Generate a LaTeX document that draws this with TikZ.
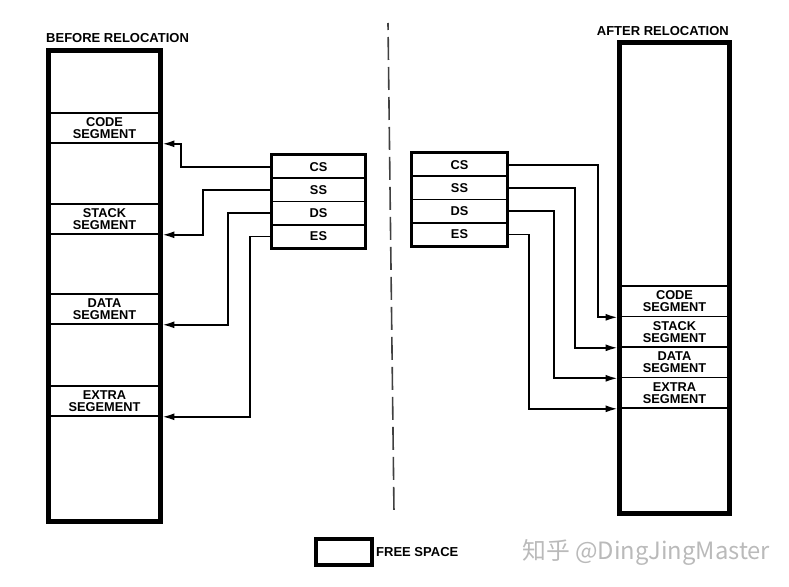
\documentclass[tikz,border=0pt]{standalone}
\usepackage{fontspec}
\setmainfont{Liberation Sans}
\newfontfamily\cjk{Noto Sans CJK SC}
\usetikzlibrary{arrows.meta}
\begin{document}
\begin{tikzpicture}[x=1pt,y=-1pt,
  lbl/.style={font=\fontsize{13}{13}\selectfont\bfseries, inner sep=0pt},
  membox/.style={draw, line width=3.2pt, inner sep=0pt},
  segbox/.style={draw, line width=1.6pt, inner sep=0pt, align=center,
     font=\fontsize{12.8}{12}\selectfont\bfseries},
  regcell/.style={draw, line width=1.6pt, inner sep=0pt,
     font=\fontsize{12.8}{12}\selectfont\bfseries},
  conn/.style={line width=1.8pt, -{Latex[length=12pt,width=7pt]}, shorten >=1.6pt},
]
\useasboundingbox (0,0) rectangle (789,586);

% ---------- BEFORE ----------
\node[lbl, anchor=west] (tbefore) at (46,38) {BEFORE RELOCATION};
\node[membox, minimum width=111pt, minimum height=470pt] (lmem) at (104.5,286) {};
\node[segbox, minimum width=111pt, minimum height=30pt] (lcode) at (104.5,128) {CODE\\SEGMENT};
\node[segbox, minimum width=111pt, minimum height=30pt] (lstack) at (104.5,219) {STACK\\SEGMENT};
\node[segbox, minimum width=111pt, minimum height=30pt] (ldata) at (104.5,309) {DATA\\SEGMENT};
\node[segbox, minimum width=111pt, minimum height=30pt] (lextra) at (104.5,401) {EXTRA\\SEGEMENT};
\draw[line width=3.2pt] (lmem.north west) rectangle (lmem.south east);

\node[regcell, minimum width=93pt, minimum height=23.25pt] (lcs) at (318.5,166.6) {CS};
\node[regcell, minimum width=93pt, minimum height=23.25pt] (lss) at (318.5,189.9) {SS};
\node[regcell, minimum width=93pt, minimum height=23.25pt] (lds) at (318.5,213.1) {DS};
\node[regcell, minimum width=93pt, minimum height=23.25pt] (les) at (318.5,236.4) {ES};
\draw[line width=3.2pt] (lcs.north west) rectangle (les.south east);

\draw[conn] (lcs.west) -- ++(-90,0) |- (lcode.south east);
\draw[conn] (lss.west) -- ++(-68,0) |- (lstack.south east);
\draw[conn] (lds.west) -- ++(-43,0) |- (ldata.south east);
\draw[conn] (les.west) -- ++(-21,0) |- (lextra.south east);

% ---------- divider ----------
\coordinate (dtop) at (388,23);
\coordinate (dbot) at (394,513);
\draw[line width=1.6pt, black!75, dash pattern=on 23pt off 7pt, dash phase=16pt] (dtop) -- (dbot);

% ---------- AFTER ----------
\node[lbl, anchor=east] (tafter) at (729,31) {AFTER RELOCATION};
\node[membox, minimum width=109pt, minimum height=470pt] (rmem) at (674.5,278) {};
\node[segbox, minimum width=109pt, minimum height=30.5pt] (rcode) at (674.5,301.25) {CODE\\SEGMENT};
\node[segbox, minimum width=109pt, minimum height=30.5pt] (rstack) at (674.5,331.75) {STACK\\SEGMENT};
\node[segbox, minimum width=109pt, minimum height=30.5pt] (rdata) at (674.5,362.25) {DATA\\SEGMENT};
\node[segbox, minimum width=109pt, minimum height=30.5pt] (rextra) at (674.5,392.75) {EXTRA\\SEGMENT};
\draw[line width=3.2pt] (rmem.north west) rectangle (rmem.south east);

\node[regcell, minimum width=95pt, minimum height=23.25pt] (rcs) at (459.5,164.6) {CS};
\node[regcell, minimum width=95pt, minimum height=23.25pt] (rss) at (459.5,187.9) {SS};
\node[regcell, minimum width=95pt, minimum height=23.25pt] (rds) at (459.5,211.1) {DS};
\node[regcell, minimum width=95pt, minimum height=23.25pt] (res) at (459.5,234.4) {ES};
\draw[line width=3.2pt] (rcs.north west) rectangle (res.south east);

\draw[conn] (rcs.east) -- ++(90,0) |- (rcode.south west);
\draw[conn] (rss.east) -- ++(67,0) |- (rstack.south west);
\draw[conn] (rds.east) -- ++(46,0) |- (rdata.south west);
\draw[conn] (res.east) -- ++(21,0) |- (rextra.south west);

% ---------- legend ----------
\node[membox, minimum width=56pt, minimum height=26pt] (free) at (344,552) {};
\node[lbl, anchor=west] (freelbl) at (376,552) {FREE SPACE};
\node[anchor=west, inner sep=0pt, text=black!27, font=\cjk\fontsize{23.8}{24}\selectfont] (wm) at (522,552) {知乎 @DingJingMaster};
\end{tikzpicture}
\end{document}
